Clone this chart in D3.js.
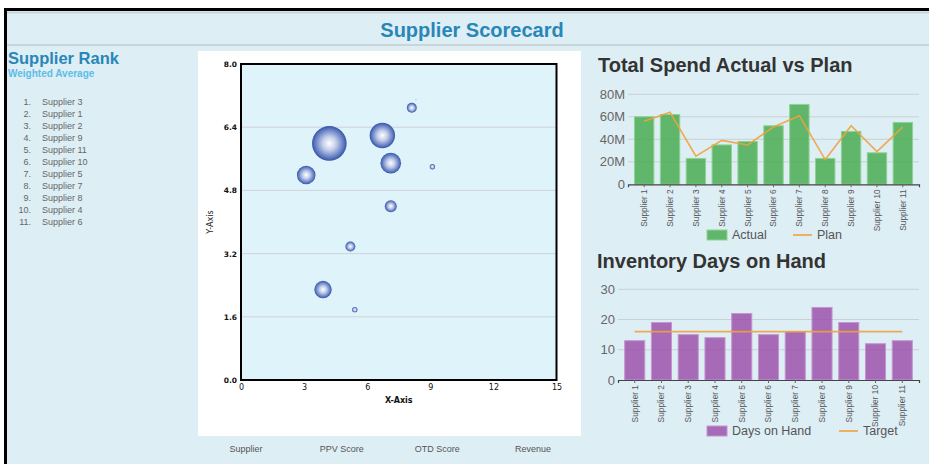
<!DOCTYPE html>
<html>
<head>
<meta charset="utf-8">
<script src="https://cdn.jsdelivr.net/npm/d3@7"></script>
<style>
  html, body { margin: 0; padding: 0; background: #ffffff; }
  svg { display: block; }
</style>
</head>
<body>
<svg id="chart" width="929" height="464"></svg>
<script>
// ---------------- DATA ----------------
const suppliers = ["Supplier 1","Supplier 2","Supplier 3","Supplier 4","Supplier 5","Supplier 6","Supplier 7","Supplier 8","Supplier 9","Supplier 10","Supplier 11"];
const spendActual = [60, 62, 23, 35, 38, 52, 71, 23, 47, 28, 55];   // millions
const spendPlan   = [56, 64, 25, 39, 35, 51, 61, 22, 52, 29, 51];   // millions
const daysOnHand  = [13, 19, 15, 14, 22, 15, 16, 24, 19, 12, 13];
const daysTarget  = 16;
const rankOrder = ["Supplier 3","Supplier 1","Supplier 2","Supplier 9","Supplier 11","Supplier 10","Supplier 5","Supplier 7","Supplier 8","Supplier 4","Supplier 6"];
const bubblePPV     = [8.12, 4.20, 6.72, 7.12, 9.10, 3.10, 7.12, 5.20, 3.90, 5.41, 8.31];
const bubbleOTD     = [6.89, 5.99, 6.19, 5.49, 5.40, 5.19, 4.40, 3.38, 2.29, 1.78, 7.10];
const bubbleRevenue = [8.3, 100, 53.8, 35.4, 2.4, 28.8, 12, 8.3, 25.2, 2.4, 0.1];
const bubbleXTicks = [0, 3, 6, 9, 12, 15];
const bubbleYTicks = [0, 1.6, 3.2, 4.8, 6.4, 8.0];
const spendTicks = [0, 20, 40, 60, 80];
const daysTicks = [0, 10, 20, 30];
const tableHeaders = ["Supplier", "PPV Score", "OTD Score", "Revenue"];

// ---------------- FRAME ----------------
const svg = d3.select("#chart");
const SANS = "'Liberation Sans', Arial, sans-serif";
const VERD = "'DejaVu Sans', Verdana, sans-serif";

svg.append("rect").attr("x", 4).attr("y", 8).attr("width", 925).attr("height", 456).attr("fill", "#000");
svg.append("rect").attr("x", 7).attr("y", 11).attr("width", 922).attr("height", 453).attr("fill", "#deeef5");
svg.append("line").attr("x1", 7).attr("x2", 929).attr("y1", 12.5).attr("y2", 12.5).attr("stroke", "#c9d3d8").attr("stroke-width", 2);
svg.append("line").attr("x1", 7).attr("x2", 929).attr("y1", 45).attr("y2", 45).attr("stroke", "#c3ccd1").attr("stroke-width", 1.5);

svg.append("text").attr("x", 472).attr("y", 37).attr("text-anchor", "middle")
  .attr("font-family", SANS).attr("font-weight", "bold").attr("font-size", 20)
  .attr("fill", "#2887b8").text("Supplier Scorecard");

// ---------------- RANK LIST ----------------
svg.append("text").attr("x", 8).attr("y", 64)
  .attr("font-family", SANS).attr("font-weight", "bold").attr("font-size", 16.5)
  .attr("fill", "#2887b8").text("Supplier Rank");
svg.append("text").attr("x", 8).attr("y", 77)
  .attr("font-family", SANS).attr("font-weight", "bold").attr("font-size", 10)
  .attr("fill", "#5bbde8").text("Weighted Average");

const rankY = d3.scaleLinear().domain([0, rankOrder.length - 1]).range([102, 222]);
const rankG = svg.append("g").attr("font-family", SANS).attr("font-size", 9).attr("fill", "#666");
rankOrder.forEach((s, i) => {
  rankG.append("text").attr("x", 31).attr("y", rankY(i)).attr("dy", "0.35em").attr("text-anchor", "end").text((i + 1) + ".");
  rankG.append("text").attr("x", 42).attr("y", rankY(i)).attr("dy", "0.35em").text(s);
});

// ---------------- BUBBLE CHART ----------------
svg.append("rect").attr("x", 198).attr("y", 51).attr("width", 383).attr("height", 385).attr("fill", "#ffffff");
const bx = d3.scaleLinear().domain([0, 15]).range([241, 556.5]);
const by = d3.scaleLinear().domain([0, 8]).range([380, 64]);
const br = d3.scaleSqrt().domain([0, 100]).range([0, 17.3]);

svg.append("rect").attr("x", bx(0)).attr("y", by(8)).attr("width", bx(15) - bx(0)).attr("height", by(0) - by(8))
  .attr("fill", "#dff3fb");
svg.append("g").selectAll("line").data(bubbleYTicks.slice(1, -1)).join("line")
  .attr("x1", bx(0)).attr("x2", bx(15)).attr("y1", d => by(d)).attr("y2", d => by(d))
  .attr("stroke", "#cfd3d5").attr("stroke-width", 1);

const defs = svg.append("defs");
const grad = defs.append("radialGradient").attr("id", "bub").attr("cx", "50%").attr("cy", "50%").attr("r", "50%");
grad.append("stop").attr("offset", "0%").attr("stop-color", "#ffffff");
grad.append("stop").attr("offset", "40%").attr("stop-color", "#c3cdea");
grad.append("stop").attr("offset", "85%").attr("stop-color", "#5a76be");
grad.append("stop").attr("offset", "100%").attr("stop-color", "#3553a6");

const bubbles = bubblePPV.map((x, i) => ({ x, y: bubbleOTD[i], rev: bubbleRevenue[i] }));
svg.append("g").selectAll("circle").data(bubbles.slice().sort((a, b) => b.rev - a.rev)).join("circle")
  .attr("cx", d => bx(d.x)).attr("cy", d => by(d.y)).attr("r", d => br(d.rev))
  .attr("fill", "url(#bub)");

svg.append("rect").attr("x", bx(0)).attr("y", by(8)).attr("width", bx(15) - bx(0)).attr("height", by(0) - by(8))
  .attr("fill", "none").attr("stroke", "#000").attr("stroke-width", 2);

const yAx = svg.append("g").attr("transform", `translate(${bx(0) - 1},0)`)
  .call(d3.axisLeft(by).tickValues(bubbleYTicks).tickFormat(d3.format(".1f")).tickSize(0).tickPadding(3));
yAx.select(".domain").remove();
yAx.selectAll("text").attr("font-family", VERD).attr("font-weight", "bold").attr("font-size", 7.5).attr("fill", "#111");

const xAx = svg.append("g").attr("transform", `translate(0,${by(0) + 1})`)
  .call(d3.axisBottom(bx).tickValues(bubbleXTicks).tickSize(0).tickPadding(3));
xAx.select(".domain").remove();
xAx.selectAll("text").attr("font-family", VERD).attr("font-size", 8).attr("fill", "#111");

svg.append("text").attr("x", (bx(0) + bx(15)) / 2).attr("y", 403).attr("text-anchor", "middle")
  .attr("font-family", VERD).attr("font-weight", "bold").attr("font-size", 8).attr("fill", "#111").text("X-Axis");
svg.append("text").attr("transform", `translate(213,${(by(0) + by(8)) / 2}) rotate(-90)`).attr("text-anchor", "middle")
  .attr("font-family", VERD).attr("font-size", 8).attr("fill", "#222").text("Y-Axis");

const headX = d3.scalePoint().domain(tableHeaders).range([246, 533]);
svg.append("g").selectAll("text").data(tableHeaders).join("text")
  .attr("x", d => headX(d)).attr("y", 449).attr("dy", "0.35em").attr("text-anchor", "middle")
  .attr("font-family", SANS).attr("font-size", 9).attr("fill", "#555").text(d => d);

// ---------------- BAR CHART HELPER ----------------
function barChart(opt) {
  const g = svg.append("g");
  g.append("text").attr("x", opt.titleX).attr("y", opt.titleY)
    .attr("font-family", SANS).attr("font-weight", "bold").attr("font-size", 20).attr("fill", "#333").text(opt.title);
  const x = d3.scaleBand().domain(suppliers).range(opt.xRange).padding(0.25);
  const y = d3.scaleLinear().domain(opt.yDomain).range(opt.yRange);
  // grid
  g.append("g").selectAll("line").data(opt.ticks.slice(1)).join("line")
    .attr("x1", opt.xRange[0]).attr("x2", opt.xRange[1]).attr("y1", d => y(d)).attr("y2", d => y(d))
    .attr("stroke", "#c9d0d4").attr("stroke-width", 1);
  // y labels
  const ya = g.append("g").attr("transform", `translate(${opt.xRange[0]},0)`)
    .call(d3.axisLeft(y).tickValues(opt.ticks).tickFormat(opt.fmt).tickSize(0).tickPadding(3));
  ya.select(".domain").remove();
  ya.selectAll("text").attr("font-family", SANS).attr("font-size", 13).attr("fill", "#666");
  // bars
  g.append("g").selectAll("rect").data(opt.values).join("rect")
    .attr("x", (d, i) => x(suppliers[i])).attr("width", x.bandwidth())
    .attr("y", d => y(d)).attr("height", d => y(0) - y(d))
    .attr("fill", opt.barColor).attr("fill-opacity", 0.85)
    .attr("stroke", opt.barStroke).attr("stroke-width", 1);
  // line
  const line = d3.line().x((d, i) => x(suppliers[i]) + x.bandwidth() / 2).y(d => y(d));
  g.append("path").datum(opt.lineValues).attr("d", line)
    .attr("fill", "none").attr("stroke", "#f0a23c").attr("stroke-width", 1.6).attr("stroke-opacity", 0.9);
  // x axis
  const xa = g.append("g").attr("transform", `translate(0,${y(0)})`)
    .call(d3.axisBottom(x).tickSize(3).tickPadding(2));
  xa.select(".domain").attr("stroke", "#444").attr("stroke-width", 1.2);
  xa.selectAll(".tick line").attr("stroke", "#666");
  xa.selectAll("text").attr("font-family", SANS).attr("font-size", 8.3).attr("fill", "#555")
    .attr("text-anchor", "end").attr("transform", "rotate(-90)")
    .attr("x", -5).attr("y", 0).attr("dy", "0.35em");
  // legend
  const lg = g.append("g").attr("font-family", SANS).attr("font-size", 12.5).attr("fill", "#555");
  lg.append("rect").attr("x", 707).attr("y", opt.legendY - 5).attr("width", 20).attr("height", 10)
    .attr("fill", opt.barColor).attr("fill-opacity", 0.85).attr("stroke", opt.barStroke);
  lg.append("text").attr("x", 732).attr("y", opt.legendY).attr("dy", "0.35em").text(opt.barLabel);
  lg.append("line").attr("x1", opt.lineLegX).attr("x2", opt.lineLegX + 19).attr("y1", opt.legendY).attr("y2", opt.legendY)
    .attr("stroke", "#f0a23c").attr("stroke-width", 1.6);
  lg.append("text").attr("x", opt.lineLegX + 24).attr("y", opt.legendY).attr("dy", "0.35em").text(opt.lineLabel);
}

barChart({
  title: "Total Spend Actual vs Plan", titleX: 598, titleY: 72,
  xRange: [628, 919], yDomain: [0, 80], yRange: [184.3, 94.3], ticks: spendTicks,
  fmt: d => d === 0 ? "0" : d + "M",
  values: spendActual, lineValues: spendPlan,
  barColor: "#4aab51", barStroke: "#8fd394",
  legendY: 235, barLabel: "Actual", lineLegX: 793, lineLabel: "Plan"
});

barChart({
  title: "Inventory Days on Hand", titleX: 597, titleY: 268,
  xRange: [618, 919], yDomain: [0, 30], yRange: [380, 289.3], ticks: daysTicks,
  fmt: d => String(d),
  values: daysOnHand, lineValues: suppliers.map(() => daysTarget),
  barColor: "#9c52ac", barStroke: "#c595d0",
  legendY: 431, barLabel: "Days on Hand", lineLegX: 839, lineLabel: "Target"
});
</script>
</body>
</html>
